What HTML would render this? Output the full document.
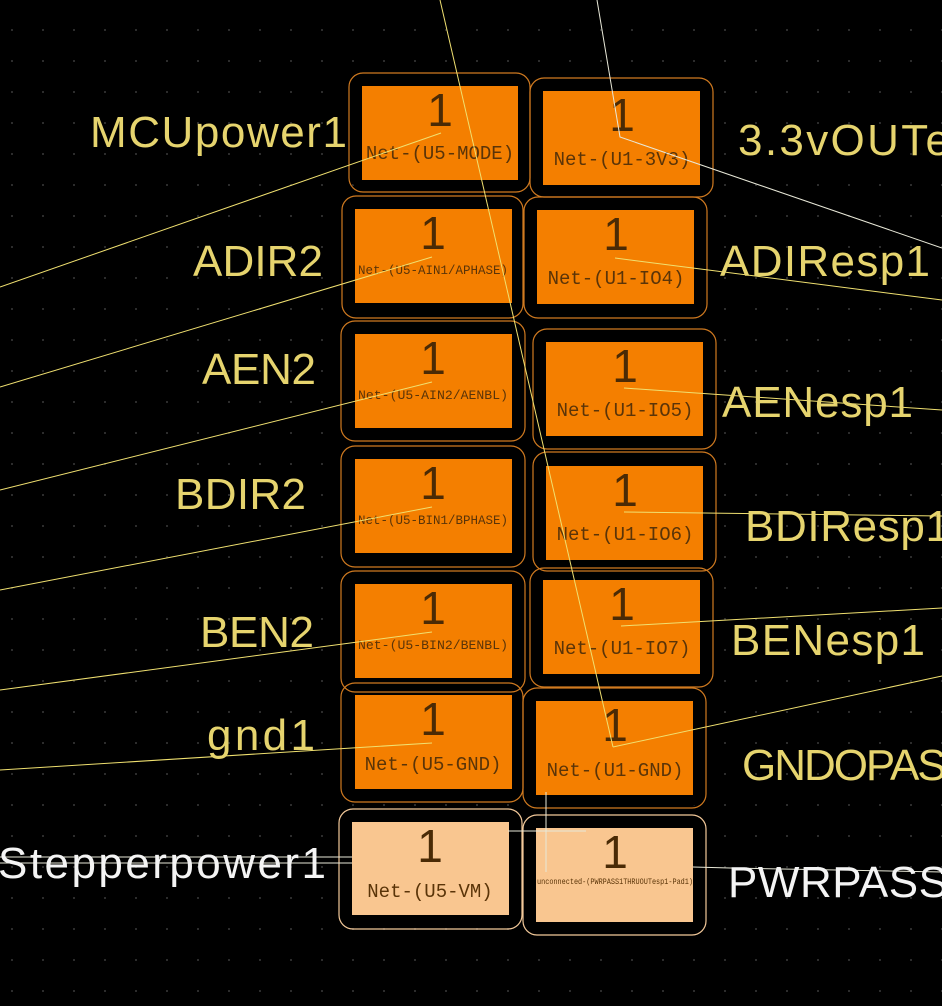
<!DOCTYPE html>
<html><head><meta charset="utf-8"><style>
html,body{margin:0;padding:0;background:#000;width:942px;height:1006px;overflow:hidden}
svg{display:block}
.lab{font-family:"Liberation Sans",sans-serif;font-size:44px;fill:#e6d46e}
.labw{font-family:"Liberation Sans",sans-serif;font-size:44px;fill:#f4f4f4}
.one{font-family:"Liberation Sans",sans-serif;font-size:46px;fill:#4a2a05;text-anchor:middle}
.net{font-family:"Liberation Mono",monospace;font-size:19px;fill:#5a3408;text-anchor:middle}
.ln{stroke:#e8e8d8;stroke-width:1;fill:none}
.ly{stroke:#f0e070;stroke-width:1;fill:none}
</style></head><body>
<svg width="942" height="1006" viewBox="0 0 942 1006" xmlns="http://www.w3.org/2000/svg">
<defs><pattern id="g" x="11" y="29" width="31" height="31" patternUnits="userSpaceOnUse"><rect width="2" height="2" fill="#2c2c2c"/></pattern></defs>
<rect width="942" height="1006" fill="#000"/>
<rect width="942" height="1006" fill="url(#g)"/>

<g fill="#000">
<rect x="351" y="75" width="177" height="115" rx="13"/>
<rect x="344" y="198" width="177" height="118" rx="13"/>
<rect x="343" y="323" width="180" height="116" rx="13"/>
<rect x="343" y="448" width="180" height="117" rx="13"/>
<rect x="343" y="573" width="180" height="117" rx="13"/>
<rect x="343" y="685" width="178" height="115" rx="13"/>
<rect x="532" y="80" width="179" height="115" rx="13"/>
<rect x="526" y="199" width="179" height="117" rx="13"/>
<rect x="535" y="331" width="179" height="116" rx="13"/>
<rect x="535" y="454" width="179" height="115" rx="13"/>
<rect x="532" y="570" width="179" height="115" rx="13"/>
<rect x="525" y="690" width="179" height="116" rx="13"/>
<rect x="341" y="811" width="179" height="116" rx="13"/>
<rect x="525" y="817" width="179" height="116" rx="13"/>
</g>
<g fill="none" stroke="#d07a20" stroke-width="1.2">
<rect x="349" y="73" width="181" height="119" rx="14"/>
<rect x="342" y="196" width="181" height="122" rx="14"/>
<rect x="341" y="321" width="184" height="120" rx="14"/>
<rect x="341" y="446" width="184" height="121" rx="14"/>
<rect x="341" y="571" width="184" height="121" rx="14"/>
<rect x="341" y="683" width="182" height="119" rx="14"/>
<rect x="530" y="78" width="183" height="119" rx="14"/>
<rect x="524" y="197" width="183" height="121" rx="14"/>
<rect x="533" y="329" width="183" height="120" rx="14"/>
<rect x="533" y="452" width="183" height="119" rx="14"/>
<rect x="530" y="568" width="183" height="119" rx="14"/>
<rect x="523" y="688" width="183" height="120" rx="14"/>
</g>
<g fill="none" stroke="#f3c99a" stroke-width="1.2">
<rect x="339" y="809" width="183" height="120" rx="14"/>
<rect x="523" y="815" width="183" height="120" rx="14"/>
</g>

<g fill="#f47f00">
<rect x="362" y="86" width="156" height="94"/>
<rect x="355" y="209" width="157" height="94"/>
<rect x="355" y="334" width="157" height="94"/>
<rect x="355" y="459" width="157" height="94"/>
<rect x="355" y="584" width="157" height="94"/>
<rect x="355" y="695" width="157" height="94"/>
<rect x="543" y="91" width="157" height="94"/>
<rect x="537" y="210" width="157" height="94"/>
<rect x="546" y="342" width="157" height="94"/>
<rect x="546" y="466" width="157" height="94"/>
<rect x="543" y="580" width="157" height="94"/>
<rect x="536" y="701" width="157" height="94"/>
</g>
<g fill="#f9c690">
<rect x="352" y="822" width="157" height="93"/>
<rect x="536" y="828" width="157" height="94"/>
</g>

<text class="one" x="440" y="126">1</text><text class="net" x="440" y="159">Net-(U5-MODE)</text>
<text class="one" x="433" y="249">1</text><text class="net" x="433" y="274" style="font-size:13px" textLength="150" lengthAdjust="spacingAndGlyphs">Net-(U5-AIN1/APHASE)</text>
<text class="one" x="433" y="374">1</text><text class="net" x="433" y="399" style="font-size:13px" textLength="150" lengthAdjust="spacingAndGlyphs">Net-(U5-AIN2/AENBL)</text>
<text class="one" x="433" y="499">1</text><text class="net" x="433" y="524" style="font-size:13px" textLength="150" lengthAdjust="spacingAndGlyphs">Net-(U5-BIN1/BPHASE)</text>
<text class="one" x="433" y="624">1</text><text class="net" x="433" y="649" style="font-size:13px" textLength="150" lengthAdjust="spacingAndGlyphs">Net-(U5-BIN2/BENBL)</text>
<text class="one" x="433" y="735">1</text><text class="net" x="433" y="770">Net-(U5-GND)</text>
<text class="one" x="430" y="862">1</text><text class="net" x="430" y="897">Net-(U5-VM)</text>
<text class="one" x="622" y="131">1</text><text class="net" x="622" y="165">Net-(U1-3V3)</text>
<text class="one" x="616" y="250">1</text><text class="net" x="616" y="284">Net-(U1-IO4)</text>
<text class="one" x="625" y="382">1</text><text class="net" x="625" y="416">Net-(U1-IO5)</text>
<text class="one" x="625" y="506">1</text><text class="net" x="625" y="540">Net-(U1-IO6)</text>
<text class="one" x="622" y="620">1</text><text class="net" x="622" y="654">Net-(U1-IO7)</text>
<text class="one" x="615" y="741">1</text><text class="net" x="615" y="776">Net-(U1-GND)</text>
<text class="one" x="615" y="868">1</text><text class="net" x="615" y="884" style="font-size:8px" textLength="156" lengthAdjust="spacingAndGlyphs">unconnected-(PWRPASS1THRUOUTesp1-Pad1)</text>

<line class="ly" x1="440" y1="0" x2="613" y2="747"/>
<polyline class="ln" points="597,0 620,137 942,248"/>
<line class="ly" x1="441" y1="133" x2="0" y2="287"/>
<line class="ly" x1="432" y1="257" x2="0" y2="387"/>
<line class="ly" x1="615" y1="258" x2="942" y2="300"/>
<line class="ly" x1="432" y1="382" x2="0" y2="490"/>
<line class="ly" x1="624" y1="388" x2="942" y2="410"/>
<line class="ly" x1="432" y1="507" x2="0" y2="590"/>
<line class="ly" x1="624" y1="512" x2="942" y2="516"/>
<line class="ly" x1="432" y1="632" x2="0" y2="690"/>
<line class="ly" x1="621" y1="626" x2="942" y2="608"/>
<line class="ly" x1="432" y1="743" x2="0" y2="770"/>
<line class="ly" x1="613" y1="747" x2="942" y2="676"/>
<line class="ln" x1="0" y1="857" x2="352" y2="857"/>
<line class="ln" x1="0" y1="863" x2="352" y2="863"/>
<line class="ln" x1="546" y1="792" x2="546" y2="872"/>
<line class="ln" x1="508" y1="831" x2="586" y2="831"/>
<polyline class="ln" points="693,867 730,868 942,872"/>

<text class="lab" x="90" y="147" textLength="257" lengthAdjust="spacing">MCUpower1</text>
<text class="lab" x="738" y="155" textLength="212" lengthAdjust="spacing">3.3vOUTe</text>
<text class="lab" x="193" y="276" textLength="130" lengthAdjust="spacing">ADIR2</text>
<text class="lab" x="720" y="276" textLength="210" lengthAdjust="spacing">ADIResp1</text>
<text class="lab" x="202" y="384" textLength="114" lengthAdjust="spacing">AEN2</text>
<text class="lab" x="722" y="417" textLength="191" lengthAdjust="spacing">AENesp1</text>
<text class="lab" x="175" y="509" textLength="131" lengthAdjust="spacing">BDIR2</text>
<text class="lab" x="745" y="541" textLength="205" lengthAdjust="spacing">BDIResp1</text>
<text class="lab" x="200" y="647" textLength="114" lengthAdjust="spacing">BEN2</text>
<text class="lab" x="731" y="655" textLength="194" lengthAdjust="spacing">BENesp1</text>
<text class="lab" x="207" y="750" textLength="108" lengthAdjust="spacing">gnd1</text>
<text class="lab" x="742" y="780" textLength="232" lengthAdjust="spacing">GNDOPASS</text>
<text class="labw" x="-2" y="878" textLength="328" lengthAdjust="spacing">Stepperpower1</text>
<text class="labw" x="728" y="897" textLength="245" lengthAdjust="spacing">PWRPASS1</text>
</svg>
</body></html>
